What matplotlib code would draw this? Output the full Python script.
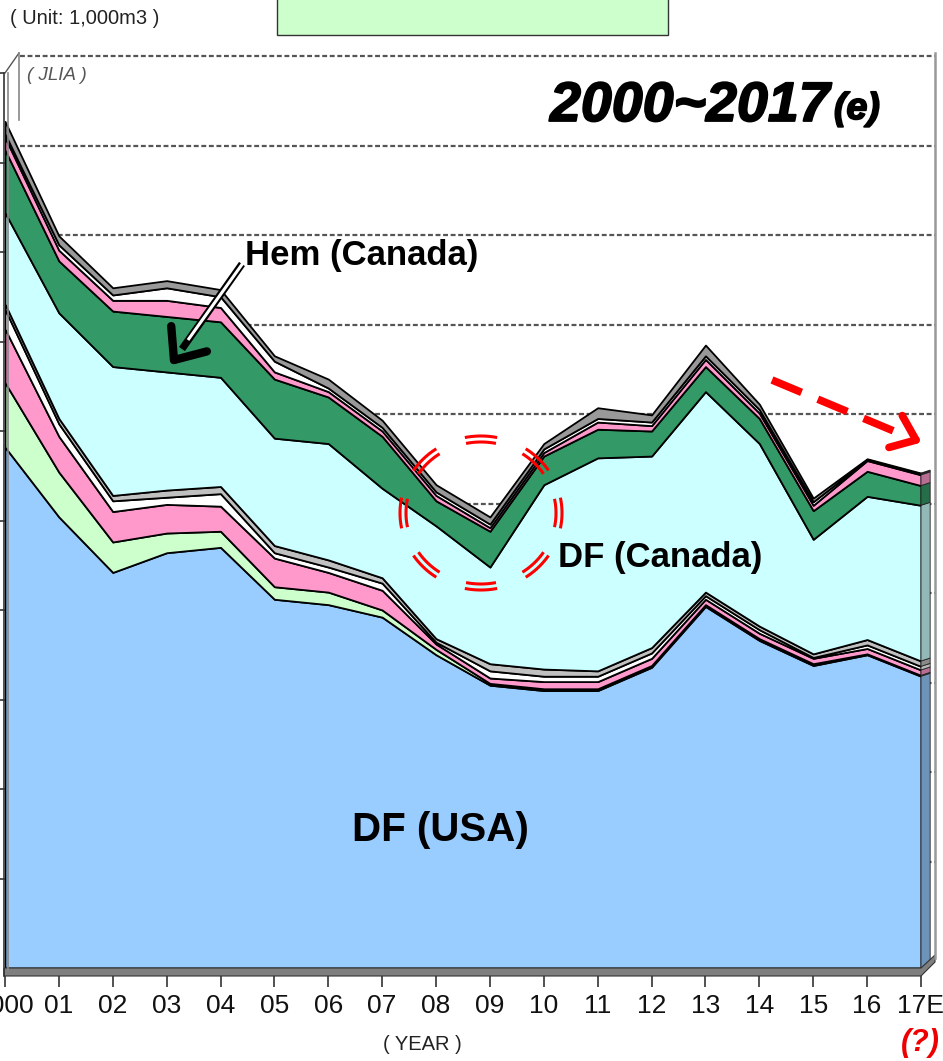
import matplotlib
matplotlib.use('Agg')
import matplotlib.pyplot as plt
import matplotlib.patheffects as pe
import numpy as np
from matplotlib.patches import Polygon, Rectangle
from matplotlib.colors import to_rgb

# ---------------- data (unit: 1,000 m3) ----------------
years = ['2000', '01', '02', '03', '04', '05', '06', '07', '08', '09',
         '10', '11', '12', '13', '14', '15', '16', '17E']
df_usa        = [2910, 2520, 2210, 2320, 2350, 2060, 2030, 1960, 1750, 1580,
                 1550, 1550, 1680, 2020, 1830, 1690, 1750, 1630]
usa_green     = [360, 250, 170, 110, 90, 70, 70, 40, 30, 10,
                 10, 10, 10, 10, 10, 10, 5, 5]
usa_pink      = [300, 200, 170, 160, 140, 160, 110, 110, 30, 30,
                 40, 40, 40, 30, 30, 30, 30, 30]
usa_white     = [110, 70, 60, 40, 70, 30, 30, 40, 10, 40,
                 30, 30, 30, 20, 20, 5, 20, 20]
usa_gray      = [30, 30, 30, 40, 40, 40, 40, 30, 20, 40,
                 40, 30, 30, 20, 20, 20, 30, 30]
df_canada     = [510, 590, 720, 660, 610, 600, 650, 500, 630, 540,
                 1030, 1190, 1070, 1120, 1020, 640, 800, 870]
hem_canada    = [350, 290, 310, 310, 310, 330, 260, 290, 140, 200,
                 160, 160, 140, 140, 140, 160, 140, 110]
can_pink      = [70, 60, 60, 90, 80, 40, 30, 30, 30, 20,
                 20, 40, 30, 40, 30, 30, 60, 60]
can_white     = [20, 30, 30, 70, 60, 60, 20, 20, 20, 20,
                 20, 20, 20, 20, 20, 20, 5, 5]
can_gray      = [70, 50, 40, 40, 40, 30, 50, 40, 40, 40,
                 30, 60, 40, 60, 30, 20, 5, 5]

series = [df_usa, usa_green, usa_pink, usa_white, usa_gray,
          df_canada, hem_canada, can_pink, can_white, can_gray]
colors = ['#99CCFF', '#CCFFCC', '#FF99CC', '#FFFFFF', '#C0C0C0',
          '#CCFFFF', '#339966', '#FF99CC', '#FFFFFF', '#999999']

# ---------------- figure ----------------
W, H = 943, 1061
fig = plt.figure(figsize=(W / 100, H / 100), dpi=100)
fig.patch.set_facecolor('white')

PX_PER_UNIT = 89.5 / 500.0
x0_px, x1_px = 5, 921
ybot_px, ytop_px = 968, 53
ax = fig.add_axes([x0_px / W, (H - ybot_px) / H, (x1_px - x0_px) / W,
                   (ybot_px - ytop_px) / H])
ymax = (ybot_px - ytop_px) / PX_PER_UNIT
ax.set_xlim(0, len(years) - 1)
ax.set_ylim(0, ymax)
for s in ax.spines.values():
    s.set_visible(False)
ax.patch.set_alpha(0)

x = np.arange(len(years))
xpx_per = (x1_px - x0_px) / (len(years) - 1)

# back-wall dashed gridlines (slightly raised for depth)
depth_y = 17 / PX_PER_UNIT
gx = [(20 - x0_px) / xpx_per, (935 - x0_px) / xpx_per]
for k in range(1, 11):
    ax.plot(gx, [500 * k + depth_y] * 2, color='#555555', lw=1.6,
            ls=(0, (2.2, 1.2)), zorder=0, clip_on=False)

ax.stackplot(x, *series, colors=colors, edgecolor='black', linewidth=1.3,
             zorder=2)

# right-hand side face of the 3D block
cum = np.cumsum(np.array(series), axis=0)
d = 0.17
dz = 3 / PX_PER_UNIT
bot = 0.0
for i, col in enumerate(colors):
    top = cum[i, -1]
    c = np.array(to_rgb(col)) * 0.72
    poly = Polygon([(x[-1], bot), (x[-1] + d, bot + dz), (x[-1] + d, top + dz),
                    (x[-1], top)], closed=True, facecolor=c, edgecolor='#222222',
                   lw=0.6, zorder=3, clip_on=False)
    ax.add_patch(poly)
    bot = top

ax.set_yticks([500 * k for k in range(1, 11)])
ax.set_yticklabels([])
ax.tick_params(axis='y', direction='out', length=4, width=1.2, color='#333333')
ax.set_xticks(x)
ax.set_xticklabels(years, fontsize=19, family='Liberation Sans', color='#111111')
ax.tick_params(axis='x', direction='out', length=14, width=1.2, pad=5,
               color='#333333')

# ---------------- overlay in pixel coordinates ----------------
ov = fig.add_axes([0, 0, 1, 1], zorder=10)
ov.set_xlim(0, W)
ov.set_ylim(H, 0)
ov.axis('off')
ov.patch.set_alpha(0)

# floor
ov.add_patch(Polygon([(4, 968), (921, 968), (935, 955), (935, 962), (921, 976), (4, 976)],
                     closed=True, facecolor='#7F7F7F', edgecolor='#333333', lw=0.8))
# left wall lines
ov.plot([4, 4], [73, 976], color='#333333', lw=1.2)
ov.plot([8, 8], [73, 970], color='#888888', lw=1.2)
ov.plot([5, 19], [73, 53], color='#555555', lw=1.0)
ov.plot([19, 19], [53, 120], color='#888888', lw=1.2)
# right border
ov.plot([935, 935], [53, 958], color='#999999', lw=1.8)

# header
ov.text(10, 18, '( Unit: 1,000m3 )', fontsize=14.5, family='Liberation Sans',
        color='#222222', va='center', ha='left')
ov.add_patch(Rectangle((277, -2), 391, 37, facecolor='#CCFFCC', edgecolor='#333333', lw=1))
ov.text(27, 76, '( JLIA )', fontsize=13.5, style='italic', family='Liberation Sans',
        color='#555555', va='center', ha='left')

heavy = [pe.withStroke(linewidth=1.3, foreground='black')]
ov.text(550, 107, '2000~2017', fontsize=40, weight='bold', style='italic',
        family='Liberation Sans', color='black', va='center', ha='left',
        path_effects=heavy)
ov.text(834, 109, '(e)', fontsize=27, weight='bold', style='italic',
        family='Liberation Sans', color='black', va='center', ha='left',
        path_effects=heavy)

# labels
ov.text(245, 255, 'Hem (Canada)', fontsize=25, weight='bold',
        family='Liberation Sans', color='black', va='center', ha='left')
ov.text(558, 557, 'DF (Canada)', fontsize=25, weight='bold',
        family='Liberation Sans', color='black', va='center', ha='left')
ov.text(440, 830, 'DF (USA)', fontsize=29, weight='bold',
        family='Liberation Sans', color='black', va='center', ha='center')

ov.text(422, 1045, '( YEAR )', fontsize=14.5, family='Liberation Sans',
        color='#222222', va='center', ha='center')
ov.text(940, 1043, '(?)', fontsize=22, weight='bold', style='italic',
        family='Liberation Sans', color='#EE0000', va='center', ha='right')


def chevron(axh, tip, tail, arm, ang, color, lw):
    v = np.array(tail, float) - np.array(tip, float)
    v /= np.linalg.norm(v)
    for s in (-1, 1):
        a = np.deg2rad(ang * s)
        r = np.array([v[0] * np.cos(a) - v[1] * np.sin(a),
                      v[0] * np.sin(a) + v[1] * np.cos(a)])
        p = np.array(tip) + r * arm
        axh.plot([tip[0], p[0]], [tip[1], p[1]], color=color, lw=lw,
                 solid_capstyle='round')


# Hem arrow: double-line shaft with bold head
tail, tip = (242, 264), (174, 360)
ov.plot([tail[0], tip[0] + 8], [tail[1], tip[1] - 11], color='black', lw=5.2,
        solid_capstyle='butt')
ov.plot([tail[0] + 1, tip[0] + 14], [tail[1] - 1, tip[1] - 20], color='white', lw=2.2,
        solid_capstyle='butt')
chevron(ov, tip, tail, 34, 40, 'black', 6)

# red double dashed circle (arc dashes aligned on both rings)
cx, cy = 481, 513
for rx, ry in ((81, 77), (75, 71)):
    for c_ang in range(0, 360, 45):
        t = np.deg2rad(np.linspace(c_ang - 11.5, c_ang + 11.5, 30))
        ov.plot(cx + rx * np.cos(t), cy - ry * np.sin(t), color='#FF0000',
                lw=2.2, solid_capstyle='butt')

# red dashed trend arrow
a_tail, a_tip = (772, 380), (916, 440)
ov.plot([a_tail[0], a_tip[0] - 8], [a_tail[1], a_tip[1] - 3], color='#FF0000',
        lw=5.5, ls=(0, (4.2, 2.3)), solid_capstyle='butt')
chevron(ov, a_tip, a_tail, 28, 38, '#FF0000', 5.5)

fig.savefig('out.png', dpi=100)
